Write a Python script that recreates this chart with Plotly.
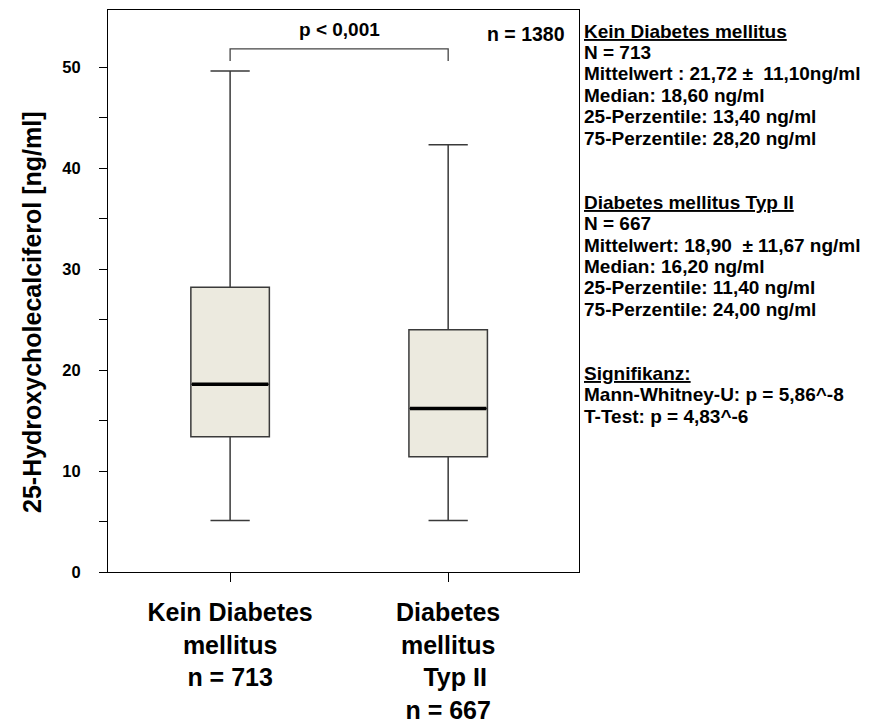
import plotly.graph_objects as go

# Summary statistics of 25-OH-vitamin D per group (ng/ml)
groups = ["Kein Diabetes mellitus", "Diabetes mellitus Typ II"]
tick_labels = [
    "Kein Diabetes<br>mellitus<br>n = 713",
    "Diabetes<br>mellitus<br>\u00a0\u00a0Typ II<br>n = 667",
]
lower_whisker = [5.1, 5.1]
q1 = [13.4, 11.4]
median = [18.6, 16.2]
q3 = [28.2, 24.0]
upper_whisker = [49.6, 42.3]

y_ticks = [0, 5, 10, 15, 20, 25, 30, 35, 40, 45, 50]
y_tick_text = ["0", "", "10", "", "20", "", "30", "", "40", "", "50"]

bracket_top = 51.8
bracket_foot = 50.6

info_lines = [
    "<u>Kein Diabetes mellitus</u>",
    "N = 713",
    "Mittelwert : 21,72 \u00b1  11,10ng/ml",
    "Median: 18,60 ng/ml",
    "25-Perzentile: 13,40 ng/ml",
    "75-Perzentile: 28,20 ng/ml",
    "",
    "",
    "<u>Diabetes mellitus Typ II</u>",
    "N = 667",
    "Mittelwert: 18,90  \u00b1 11,67 ng/ml",
    "Median: 16,20 ng/ml",
    "25-Perzentile: 11,40 ng/ml",
    "75-Perzentile: 24,00 ng/ml",
    "",
    "",
    "<u>Signifikanz:</u>",
    "Mann-Whitney-U: p = 5,86^-8",
    "T-Test: p = 4,83^-6",
]

FONT = "Liberation Sans, Arial, sans-serif"
box_w = 0.36
positions = list(range(len(groups)))

# plot-area geometry in pixels (used for placing the side notes)
W, H = 892, 722
M_L, M_R, M_T, M_B = 108, 313, 10, 150
plot_w = W - M_L - M_R
plot_h = H - M_T - M_B

fig = go.Figure()

fig.add_trace(go.Box(
    x=positions,
    q1=q1, median=median, q3=q3,
    lowerfence=lower_whisker, upperfence=upper_whisker,
    width=box_w,
    whiskerwidth=0.5,
    fillcolor="#ECEADF",
    line=dict(color="#3a3a3a", width=1.5),
    boxpoints=False,
    hoverinfo="skip",
    showlegend=False,
))

# thicker median bars
for i, m in zip(positions, median):
    fig.add_trace(go.Scatter(
        x=[i - box_w / 2 + 0.005, i + box_w / 2 - 0.005], y=[m, m],
        mode="lines", line=dict(color="black", width=3.5),
        hoverinfo="skip", showlegend=False,
    ))

# significance bracket between the two groups
fig.add_trace(go.Scatter(
    x=[positions[0], positions[0], positions[1], positions[1]],
    y=[bracket_foot, bracket_top, bracket_top, bracket_foot],
    mode="lines", line=dict(color="#444444", width=1.3),
    hoverinfo="skip", showlegend=False,
))

annotations = [
    dict(x=0.5, y=bracket_top, xref="x", yref="y", text="<b>p < 0,001</b>",
         showarrow=False, yanchor="bottom", yshift=7,
         font=dict(family=FONT, size=19, color="black")),
    dict(x=1.0, y=1.0, xref="paper", yref="paper", text="<b>n = 1380</b>",
         showarrow=False, xanchor="right", yanchor="top", xshift=-12, yshift=-11,
         font=dict(family=FONT, size=19.5, color="black")),
    dict(x=(32 - M_L) / plot_w, y=0.5, xref="paper", yref="paper",
         text="<b>25-Hydroxycholecalciferol [ng/ml]</b>", textangle=-90,
         showarrow=False, xanchor="center", yanchor="middle", yshift=-21,
         font=dict(family=FONT, size=25, color="black")),
]

# side notes, one line each
line_step = 21.4
first_line = 31
for k, line in enumerate(info_lines):
    if not line:
        continue
    ypx = first_line + k * line_step
    annotations.append(dict(
        x=1.0, y=(H - M_B - ypx) / plot_h, xref="paper", yref="paper",
        text="<b>" + line + "</b>", showarrow=False,
        xanchor="left", yanchor="middle", align="left", xshift=3,
        font=dict(family=FONT, size=19, color="black"),
    ))

fig.update_layout(
    width=W, height=H,
    margin=dict(l=M_L, r=M_R, t=M_T, b=M_B),
    paper_bgcolor="white", plot_bgcolor="white",
    annotations=annotations,
    showlegend=False,
)

fig.update_xaxes(
    range=[-0.56, 1.6],
    tickvals=positions, ticktext=["<b>" + t + "</b>" for t in tick_labels],
    ticks="outside", ticklen=9, tickcolor="black", tickwidth=1,
    tickfont=dict(family=FONT, size=25, color="black"),
    ticklabelstandoff=9,
    showline=True, linecolor="black", linewidth=1, mirror=True,
    showgrid=False, zeroline=False, automargin=False,
)
fig.update_yaxes(
    range=[0, 55.65],
    tickvals=y_ticks, ticktext=["<b>" + t + "</b>" if t else "" for t in y_tick_text],
    ticks="outside", ticklen=8, tickcolor="black", tickwidth=1,
    tickfont=dict(family=FONT, size=16.5, color="black"),
    ticklabelstandoff=15,
    showline=True, linecolor="black", linewidth=1, mirror=True,
    showgrid=False, zeroline=False, automargin=False,
)

fig.write_html("out.html")
